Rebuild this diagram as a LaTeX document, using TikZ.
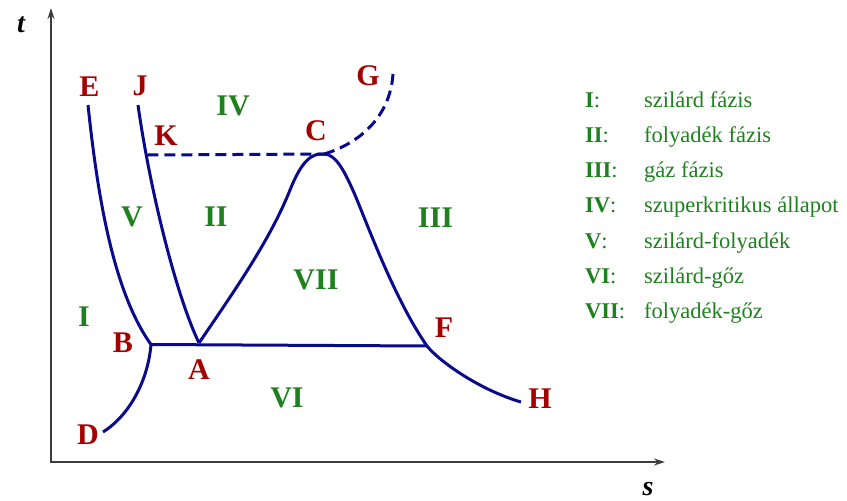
\documentclass[tikz,border=0pt]{standalone}
\usepackage{fontspec}
\setmainfont{Liberation Serif}
\usetikzlibrary{arrows.meta}
\definecolor{cRed}{RGB}{165,0,0}
\definecolor{cGreen}{RGB}{30,128,30}
\definecolor{cBlue}{RGB}{10,10,140}
\definecolor{cAxis}{RGB}{60,60,60}
\begin{document}
\begin{tikzpicture}[x=1pt,y=-1pt,
  ptlab/.style={text=cRed,font=\fontsize{30}{30}\selectfont\bfseries,inner sep=0pt},
  reglab/.style={text=cGreen,font=\fontsize{30}{30}\selectfont\bfseries,inner sep=0pt},
  curve/.style={cBlue,line width=3pt},
  dashcurve/.style={curve,dash pattern=on 11pt off 6pt},
  axisline/.style={cAxis,line width=1.5pt,{Stealth[length=11pt,width=7pt]}-{Stealth[length=11pt,width=7pt]}},
  leg/.style={text=cGreen,font=\fontsize{22.5}{24}\selectfont,anchor=base west,inner sep=0pt},
  axlab/.style={font=\fontsize{28}{28}\selectfont\bfseries\itshape,inner sep=0pt}]
\useasboundingbox (0,0) rectangle (847,501);

% axes
\coordinate (O) at (51,462);
\coordinate (Ytop) at (51,8);
\coordinate (Xend) at (665,462);
\draw[axisline] (Ytop) -- (O) -- (Xend);
\node[axlab] (tlab) at (21,25) {t};
\node[axlab] (slab) at (648,489) {s};

% key points
\coordinate (E0) at (88,105);
\coordinate (B) at (151,344.5);
\coordinate (D0) at (103,432);
\coordinate (J0) at (138,105);
\coordinate (K0) at (147.3,155);
\coordinate (A) at (199,343);
\coordinate (C) at (324,154);
\coordinate (F) at (427,346);
\coordinate (H0) at (521,402);
\coordinate (G0) at (393,74);

% curves
\draw[curve] (E0) .. controls (97,190) and (112,290) .. (B);
\draw[curve] (B) .. controls (148,380) and (130,415) .. (D0);
\draw[curve] (J0) .. controls (150,190) and (176,295) .. (A);
\draw[curve] (A) .. controls (235,290) and (270,240) .. (290,190) .. controls (302,160) and (312,153) .. (C);
\draw[curve] (C) .. controls (336,154) and (345,172) .. (355,195) .. controls (368,226) and (395,300) .. (F);
\draw[curve] (F) .. controls (440,362) and (480,390) .. (H0);
\draw[curve] (B) -- (F);
\draw[dashcurve] (K0) -- (C);
\draw[dashcurve] (C) .. controls (355,145) and (390,120) .. (G0);

% point labels
\node[ptlab] (Elab) at (89.5,86.5) {E};
\node[ptlab] (Jlab) at (140,86) {J};
\node[ptlab] (Klab) at (166,136) {K};
\node[ptlab] (Clab) at (316,131) {C};
\node[ptlab] (Glab) at (368,76) {G};
\node[ptlab] (Blab) at (123,343) {B};
\node[ptlab] (Alab) at (199,370) {A};
\node[ptlab] (Flab) at (444,328) {F};
\node[ptlab] (Hlab) at (540,399) {H};
\node[ptlab] (Dlab) at (88,435) {D};

% region labels
\node[reglab] (r4) at (233,106) {IV};
\node[reglab] (r5) at (132,217) {V};
\node[reglab] (r2) at (216,217) {II};
\node[reglab] (r3) at (435.5,218) {III};
\node[reglab] (r7) at (316,280) {VII};
\node[reglab] (r1) at (84,317) {I};
\node[reglab] (r6) at (287,398) {VI};

% legend
\node[leg] (n1) at (585,107) {\textbf{I}:};
\node[leg] (t1) at (644,107) {szilárd fázis};
\node[leg] (n2) at (585,142.3) {\textbf{II}:};
\node[leg] (t2) at (644,142.3) {folyadék fázis};
\node[leg] (n3) at (585,177.6) {\textbf{III}:};
\node[leg] (t3) at (644,177.6) {gáz fázis};
\node[leg] (n4) at (585,212.9) {\textbf{IV}:};
\node[leg] (t4) at (644,212.9) {szuperkritikus állapot};
\node[leg] (n5) at (585,248.2) {\textbf{V}:};
\node[leg] (t5) at (644,248.2) {szilárd-folyadék};
\node[leg] (n6) at (585,283.5) {\textbf{VI}:};
\node[leg] (t6) at (644,283.5) {szilárd-gőz};
\node[leg] (n7) at (585,318.8) {\textbf{VII}:};
\node[leg] (t7) at (644,318.8) {folyadék-gőz};
\end{tikzpicture}
\end{document}
